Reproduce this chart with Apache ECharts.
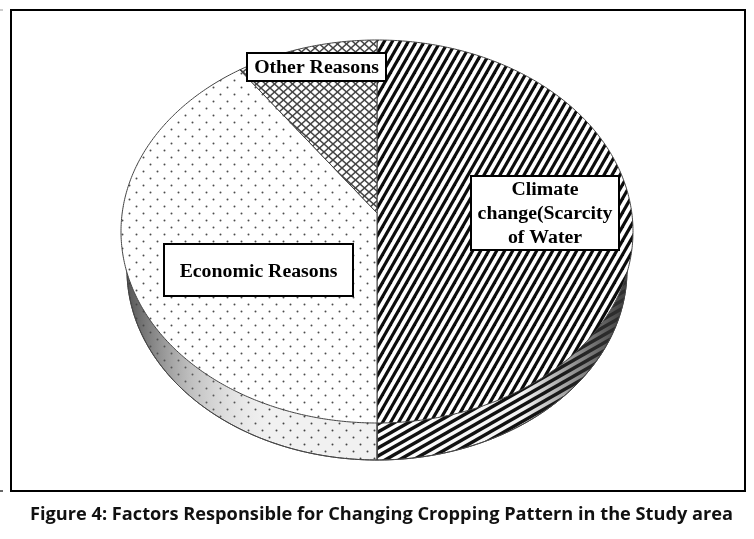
<!DOCTYPE html>
<html><head><meta charset="utf-8">
<style>html,body{margin:0;padding:0;background:#fff}#c{width:754px;height:539px}</style>
<script src="https://cdn.jsdelivr.net/npm/echarts@6/dist/echarts.min.js"></script>
</head><body><div id="c"></div>
<script>
const categories = ['Climate\nchange(Scarcity\nof Water', 'Economic Reasons', 'Other Reasons'];
const values = [50, 41, 9];
const figureTitle = 'Figure 4: Factors Responsible for Changing Cropping Pattern in the Study area';

const TOP = {cx:377, cy:231.5, rx:256, ry:191.5, ax:377, ay:213};
const BOT = {cx:377, cy:270, rx:250, ry:190, ax:377, ay:250};

function tile(w,h,draw){const c=document.createElement('canvas');c.width=w;c.height=h;const g=c.getContext('2d');g.fillStyle='#fff';g.fillRect(0,0,w,h);draw(g,w,h);return {image:c,repeat:'repeat'};}
function stripes(P,H,lw,col){return tile(P,H,(g)=>{g.strokeStyle=col;g.lineWidth=lw;for(let k=-3;k<=3;k++){g.beginPath();g.moveTo((k-1)*P,2*H);g.lineTo((k+2)*P,-H);g.stroke();}});}
function dots(bg,col,r){return tile(14,14,(g,w,h)=>{g.fillStyle=bg;g.fillRect(0,0,w,h);g.fillStyle=col;[[3.5,3.5],[10.5,10.5]].forEach(d=>{g.beginPath();g.arc(d[0],d[1],r,0,7);g.fill();});});}
function hatch(){return tile(9,8,(g,w,h)=>{g.strokeStyle='#444';g.lineWidth=1.5;[[-w,-h,2*w,2*h],[-w,2*h,2*w,-h]].forEach(l=>{g.beginPath();g.moveTo(l[0],l[1]);g.lineTo(l[2],l[3]);g.stroke();});});}

const topFill=[stripes(8,14,3.2,'#0c0c0c'),dots('#fff','#4c4c4c',1),hatch()];
const sideFill=[stripes(14,8,3.4,'#111'),dots('#f1f1f1','#444',1),hatch()];

const total=values.reduce((a,b)=>a+b,0);
function sliceRange(i){let s=0;for(let k=0;k<i;k++)s+=values[k];return [s/total*2*Math.PI,(s+values[i])/total*2*Math.PI];}
function slicePts(e,i){const [a,b]=sliceRange(i);const pts=[[e.ax,e.ay]];const n=Math.ceil((b-a)/0.01);
  for(let j=0;j<=n;j++){const t=a+(b-a)*j/n;pts.push([e.cx+e.rx*Math.sin(t),e.cy-e.ry*Math.cos(t)]);}return pts;}

const sideShade=[
 {type:'linear',x:377,y:0,x2:620,y2:0,global:true,colorStops:[{offset:0,color:'rgba(0,0,0,0)'},{offset:.6,color:'rgba(30,30,30,0.05)'},{offset:.85,color:'rgba(50,50,50,0.6)'},{offset:1,color:'rgba(50,50,50,0.9)'}]},
 {type:'linear',x:128,y:0,x2:270,y2:0,global:true,colorStops:[{offset:0,color:'rgba(60,60,60,0.85)'},{offset:.45,color:'rgba(120,120,120,0.4)'},{offset:1,color:'rgba(200,200,200,0)'}]},
 'rgba(0,0,0,0)'];

const data=values.map((v,i)=>[i,v]);
const labelBoxes=[
 {x:471,y:176,w:148,h:74,lh:24,dy:1},
 {x:164,y:244,w:189,h:52,lh:20,dy:2},
 {x:247,y:53,w:139,h:28,lh:20,dy:1}];
const serif='"Liberation Serif",serif';

const chart=echarts.init(document.getElementById('c'),null,{renderer:'canvas'});
chart.setOption({
 animation:false,
 backgroundColor:'#fff',
 title:{text:figureTitle,left:381.5,top:501,textAlign:'center',textStyle:{fontFamily:'"Open Sans",sans-serif',fontWeight:700,fontSize:18.2,color:'#111'},padding:[5,10,5,0]},
 series:[
  {type:'custom',coordinateSystem:'none',data,z:1,silent:true,renderItem(p){
    const pts=slicePts(BOT,p.dataIndex);
    return {type:'group',children:[
      {type:'polygon',shape:{points:pts},style:{fill:sideFill[p.dataIndex],stroke:'#444',lineWidth:1}},
      {type:'polygon',shape:{points:pts},style:{fill:sideShade[p.dataIndex],stroke:'#444',lineWidth:1}}
    ]};}},
  {type:'custom',coordinateSystem:'none',data,z:2,silent:true,renderItem(p){
    return {type:'polygon',shape:{points:slicePts(TOP,p.dataIndex)},style:{fill:topFill[p.dataIndex],stroke:'#444',lineWidth:1}};}}
 ],
 graphic:[
  {type:'rect',z:5,shape:{x:11,y:10,width:734,height:481},style:{fill:'none',stroke:'#000',lineWidth:2}},
  {type:'line',z:5,shape:{x1:0,y1:491,x2:3,y2:491},style:{stroke:'#333',lineWidth:1.5}},
  {type:'line',z:5,shape:{x1:0,y1:10,x2:3,y2:10},style:{stroke:'#999',lineWidth:1}},
  ...categories.map((c,i)=>{const b=labelBoxes[i];return {type:'group',z:6,children:[
    {type:'rect',z:6,shape:{x:b.x,y:b.y,width:b.w,height:b.h},style:{fill:'#fff',stroke:'#000',lineWidth:2}},
    {type:'text',z:7,x:b.x+b.w/2,y:b.y+b.h/2+b.dy,style:{text:c,align:'center',verticalAlign:'middle',fontFamily:serif,fontWeight:700,fontSize:19.8,lineHeight:b.lh,fill:'#000'}}
  ]};})
 ]
});
</script></body></html>
